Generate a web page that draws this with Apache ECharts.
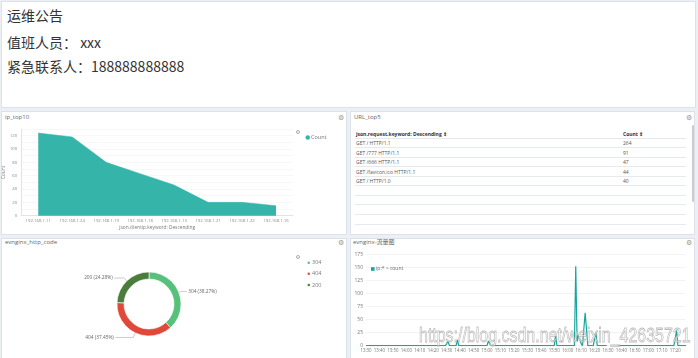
<!DOCTYPE html>
<html><head><meta charset="utf-8">
<script src="https://cdn.jsdelivr.net/npm/echarts@6/dist/echarts.min.js"></script>
<style>
html,body{margin:0;padding:0}
body{width:698px;height:358px;background:#eceff3;overflow:hidden;position:relative;font-family:"Open Sans","Noto Sans","Noto Sans CJK SC",sans-serif;}
.panel{position:absolute;background:#fff;border:1px solid #dde2ea;box-sizing:border-box;}
.ptitle{position:absolute;font-family:"Open Sans","Noto Sans CJK SC",sans-serif;font-size:6px;color:#666;line-height:8px;white-space:nowrap}
.gear{position:absolute;font-family:"DejaVu Sans";font-size:7px;color:#999;line-height:8px}
.notice{position:absolute;left:7px;font-family:"Noto Sans CJK SC",sans-serif;font-size:14px;color:#333;line-height:18px;white-space:nowrap}
.tbl{position:absolute;left:355px;width:331px;font-size:5px;color:#555;}
.row{position:absolute;left:0;width:331px;border-bottom:1px solid #e6e9ee;box-sizing:border-box;height:9.6px}
.row span{position:absolute;top:1.5px;line-height:6px;white-space:nowrap}
.hdr span{font-weight:bold;color:#333}
.toggle{position:absolute;width:2px;height:2px;border:0.8px solid #aaa;border-radius:50%}
#chart{position:absolute;left:0;top:0;width:698px;height:358px;}
.wm{position:absolute;left:419px;top:323px;font-family:"Liberation Sans",Arial,sans-serif;font-size:21px;line-height:24px;color:rgba(255,255,255,0.6);-webkit-text-stroke:0.8px rgba(160,160,160,0.7);transform:scaleX(0.76);transform-origin:0 0;white-space:nowrap;z-index:5}
</style></head>
<body>
<div class="panel" style="left:1px;top:1px;width:695px;height:107px"></div>
<div class="notice" style="top:6px">运维公告</div>
<div class="notice" style="top:33px">值班人员： xxx</div>
<div class="notice" style="top:57px">紧急联系人：188888888888</div>

<div class="panel" style="left:1px;top:111px;width:346px;height:124px"></div>
<div class="ptitle" style="left:5px;top:113px">ip_top10</div>
<div class="gear" style="left:338px;top:114px">⚙</div>
<div class="toggle" style="left:295.5px;top:129.5px"></div>

<div class="panel" style="left:350px;top:111px;width:345px;height:124px"></div>
<div class="ptitle" style="left:354px;top:113px">URL_top5</div>
<div class="gear" style="left:686px;top:114px">⚙</div>
<div style="position:absolute;left:691.5px;top:125px;width:2px;height:77px;background:#c9ccd1;border-radius:1px"></div>
<div class="tbl" id="tbl" style="top:129px"></div>

<div class="panel" style="left:1px;top:238px;width:346px;height:122px"></div>
<div class="ptitle" style="left:5px;top:238px">evnginx_http_code</div>
<div class="gear" style="left:338px;top:239px">⚙</div>
<div class="toggle" style="left:295.5px;top:254.5px"></div>

<div class="panel" style="left:350px;top:238px;width:345px;height:122px"></div>
<div class="ptitle" style="left:353px;top:238px">evnginx-流量图</div>
<div class="gear" style="left:686px;top:239px">⚙</div>

<div id="chart"></div>
<div class="wm">https://blog.csdn.net/weixin_42635721</div>
<script>
// ---- data ----
const ipCategories = ['192.168.1.11','192.168.1.24','192.168.1.19','192.168.1.18','192.168.1.13','192.168.1.21','192.168.1.22','192.168.1.16'];
const ipCounts = [124,118,80,63,46,20,20,15];
const ipTicks = [0,20,40,60,80,100,120];

const urlHeader = ['json.request.keyword: Descending \u21d5','Count \u21d5'];
const urlCategories = ['GET / HTTP/1.1','GET /777 HTTP/1.1','GET /666 HTTP/1.1','GET /favicon.ico HTTP/1.1','GET / HTTP/1.0'];
const urlCounts = [264,91,47,44,40];

const codeNames = ['304','404','200'];
const codeShares = [38.27,37.45,24.28];

const trafficTimes = ['13:30','14:29','14:30','14:31','14:32','14:37','14:38','14:39','15:00','15:01','15:02','15:03','15:50','15:51','15:52','16:05','16:06','16:07','16:08','16:09','16:10','16:11','16:13','16:15','16:19','16:21','16:22','16:29','16:33','16:37','17:19','17:21','17:22','17:28'];
const trafficCounts = [0,0,4,9,0,0,11,0,0,9,4,0,0,20,0,0,152,8,20,19,4,0,63,0,0,25,0,0,null,0,0,29,0,0];
const trafficTicks = [0,25,50,75,100,125,150,175];

// ---- table ----
const tbl = document.getElementById('tbl');
const rowH = 9.55;
function addRow(i, a, b, hdr){
  const r = document.createElement('div');
  r.className = 'row' + (hdr ? ' hdr' : '');
  r.style.top = (i * rowH) + 'px';
  r.innerHTML = '<span style="left:1px">' + a + '</span><span style="left:268px">' + b + '</span>';
  tbl.appendChild(r);
}
addRow(0, urlHeader[0], urlHeader[1], true);
for (let i = 0; i < 9; i++) addRow(i + 1, urlCategories[i] || '', urlCounts[i] !== undefined ? urlCounts[i] : '', false);

// ---- chart ----
function toMin(t){ const p = t.split(':'); return (+p[0])*60 + (+p[1]) - (13*60+30); }
function fmtMin(v){ if (v % 10 !== 0) return ''; const m = v + 13*60+30; const h = Math.floor(m/60), mm = m%60; return h + ':' + (mm<10?'0':'') + mm; }

const teal = '#35b5aa';
const lbl = {fontSize:4.6, color:'#888', fontFamily:'Open Sans'};
const pieLines = [{length:3, length2:5}, {length:5, length2:18}, {length:4, length2:10}];
const chart = echarts.init(document.getElementById('chart'), null, {renderer:'canvas'});
chart.setOption({
  animation:false,
  backgroundColor:'transparent',
  textStyle:{fontFamily:'Open Sans'},
  legend:[
    {left:300.5, top:129.5, itemWidth:4.5, itemHeight:4.5, icon:'circle', data:['Count'], textStyle:{fontSize:5.5, color:'#777', lineHeight:5, padding:[0,0,0,-4]}},
    {left:300.5, top:254.5, orient:'vertical', itemGap:4.6, itemWidth:4.5, itemHeight:4.5, icon:'circle', data:codeNames, textStyle:{fontSize:5.5, color:'#777', lineHeight:5, padding:[0,0,0,-4]}},
    {left:366, top:261.5, itemWidth:3.6, itemHeight:3.6, icon:'rect', data:['ip:* > count'], textStyle:{fontSize:5, color:'#666', lineHeight:5, padding:[0,0,0,-3.5]}, itemGap:2}
  ],
  grid:[
    {left:20, top:129, width:273, height:86.7},
    {left:366, top:254.3, width:320, height:91.4}
  ],
  xAxis:[
    {gridIndex:0, type:'category', data:ipCategories, boundaryGap:true,
     axisLine:{lineStyle:{color:'#e3e3e3'}}, axisTick:{show:false},
     axisLabel:Object.assign({margin:3}, lbl, {fontSize:4.3}),
     name:'json.clientip.keyword: Descending', nameLocation:'middle', nameGap:9,
     nameTextStyle:{fontSize:4.8, color:'#777'}},
    {gridIndex:1, type:'value', min:0, max:238, interval:10,
     axisLine:{show:false}, axisTick:{show:false}, splitLine:{show:false},
     axisLabel:Object.assign({margin:3, formatter:fmtMin}, lbl, {fontSize:4.4, color:'#777'})}
  ],
  yAxis:[
    {gridIndex:0, type:'value', min:0, max:130, interval:10,
     axisLine:{show:true, lineStyle:{color:'#e3e3e3'}}, axisTick:{show:false},
     splitLine:{lineStyle:{color:'#f2f2f2', width:0.6}},
     axisLabel:Object.assign({margin:4, formatter:v => ipTicks.includes(v) ? String(v) : ''}, lbl, {fontSize:4.3}),
     name:'Count', nameLocation:'middle', nameGap:13, nameRotate:90, nameTextStyle:{fontSize:4.8, color:'#777'}},
    {gridIndex:1, type:'value', min:0, max:175, interval:25,
     axisLine:{show:false}, axisTick:{show:false},
     splitLine:{lineStyle:{color:'#eeeeee', width:0.7}},
     axisLabel:Object.assign({margin:3, formatter:v => trafficTicks.includes(v) ? String(v) : ''}, lbl, {fontSize:5, color:'#777'})}
  ],
  series:[
    {name:'Count', type:'line', xAxisIndex:0, yAxisIndex:0, data:ipCounts, showSymbol:false,
     color:teal, lineStyle:{width:0.5, color:teal}, areaStyle:{color:teal, opacity:1}},
    {name:'ip:* > count', type:'line', xAxisIndex:1, yAxisIndex:1, showSymbol:false, connectNulls:false,
     color:'#17a69d', lineStyle:{width:1.2, color:'#17a69d'},
     data:trafficTimes.map((t,i) => [toMin(t), trafficCounts[i] === null ? '-' : trafficCounts[i]])},
    {name:'http_code', type:'pie', center:[149,304], radius:[25,32], startAngle:90, clockwise:true,
     avoidLabelOverlap:false,
     color:['#57c17b','#e0483a','#4a7d3c'],
     itemStyle:{borderColor:'#fff', borderWidth:0.6},
     label:{show:true, position:'outside', formatter:'{b} ({d}%)', fontSize:4.8, color:'#666', distanceToLabelLine:1.5},
     labelLine:{show:true, length:4, length2:12, lineStyle:{color:'#999', width:0.5}},
     data:codeNames.map((n,i) => ({name:n, value:codeShares[i], labelLine:pieLines[i]}))}
  ]
});
</script>
</body></html>
